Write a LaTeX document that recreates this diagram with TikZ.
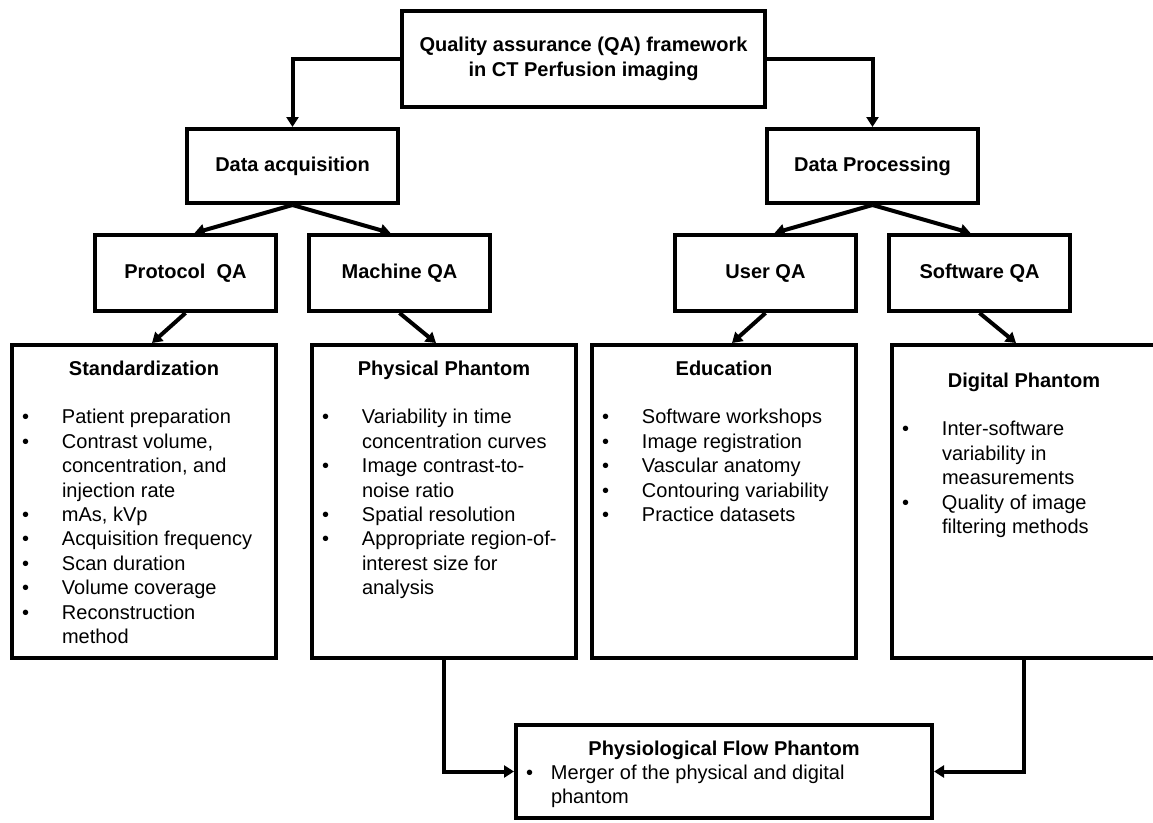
\documentclass[tikz,border=0pt]{standalone}
\usepackage{fontspec}
\setmainfont{Liberation Sans}
\usetikzlibrary{positioning,arrows.meta}

\newcommand{\qafont}{\fontsize{20}{24.4}\selectfont}
\newcommand{\qahead}[1]{\centering\rule{0pt}{20pt}\textbf{#1}\par\raggedright}
\newcommand{\qaitem}[2][40pt]{\hangindent=#1\hangafter=1\noindent\makebox[#1][l]{\textbullet}#2\par}

\begin{document}
\begin{tikzpicture}[
		every node/.style={font=\qafont},
		topbox/.style={draw,line width=4pt,minimum width=363pt,minimum height=96pt,align=center,font=\qafont\bfseries},
		lvlbox/.style={draw,line width=4pt,minimum width=211pt,minimum height=74pt,font=\qafont\bfseries},
		qabox/.style={draw,line width=4pt,minimum width=181pt,minimum height=76pt,font=\qafont\bfseries},
		listbox/.style={draw,line width=4pt,inner sep=10pt},
		arr/.style={line width=4pt,-{Triangle[length=10pt,width=12pt]}}
		]
		\useasboundingbox (0,0) rectangle (1153pt,-822pt);
		\node[listbox,anchor=north west] (std) at (10pt,-343pt)
		{\parbox[c][293pt][t]{244pt}{%
				\qahead{Standardization}
				\vspace{24.4pt}
				\qaitem{Patient preparation}
				\qaitem{Contrast volume,\newline concentration, and\newline injection rate}
				\qaitem{mAs, kVp}
				\qaitem{Acquisition frequency}
				\qaitem{Scan duration}
				\qaitem{Volume coverage}
				\qaitem{Reconstruction\newline method}}};
		\node[listbox,right=32pt of std] (phys)
		{\parbox[c][293pt][t]{244pt}{%
				\qahead{Physical Phantom}
				\vspace{24.4pt}
				\qaitem{Variability in time\newline concentration curves}
				\qaitem{Image contrast-to-\newline noise ratio}
				\qaitem{Spatial resolution}
				\qaitem{Appropriate region-of-\newline interest size for\newline analysis}}};
		\node[listbox,right=12pt of phys] (edu)
		{\parbox[c][293pt][t]{244pt}{%
				\qahead{Education}
				\vspace{24.4pt}
				\qaitem{Software workshops}
				\qaitem{Image registration}
				\qaitem{Vascular anatomy}
				\qaitem{Contouring variability}
				\qaitem{Practice datasets}}};
		\node[listbox,right=32pt of edu] (dig)
		{\parbox[c][293pt][t]{244pt}{%
				\vspace*{12pt}
				\qahead{Digital Phantom}
				\vspace{24.4pt}
				\qaitem{Inter-software\newline variability in\newline measurements}
				\qaitem{Quality of image\newline filtering methods}}};
		\node[listbox,below=63pt of edu] (flow)
		{\parbox[c][73pt][t]{396pt}{%
				\qahead{Physiological Flow Phantom}
				\qaitem[25pt]{Merger of the physical and digital\newline phantom}}};
		\node[qabox,above left=30pt and 0pt of std.north east] (protqa) {Protocol~~QA};
		\node[qabox,right=29pt of protqa] (machqa) {Machine QA};
		\node[qabox,above left=30pt and 0pt of edu.north east] (userqa) {User QA};
		\node[qabox,right=29pt of userqa] (softqa) {Software QA};
		\node[lvlbox,above=28pt of protqa.north east,xshift=14.5pt] (acq) {Data acquisition};
		\node[lvlbox,above=28pt of userqa.north east,xshift=14.5pt] (proc) {Data Processing};
		\node[topbox,above right=18pt and 0pt of acq.north east] (qa)
		{Quality assurance (QA) framework\\in CT Perfusion imaging};
		\draw[arr] (qa.west) -| (acq.north);
		\draw[arr] (qa.east) -| (proc.north);
		\path [arr]
		(acq.south) edge ([xshift=9pt]protqa.north)
		(acq.south) edge ([xshift=-9pt]machqa.north)
		(proc.south) edge ([xshift=9pt]userqa.north)
		(proc.south) edge ([xshift=-9pt]softqa.north)
		(protqa.south) edge ([xshift=8pt]std.north)
		(machqa.south) edge ([xshift=-8pt]phys.north)
		(userqa.south) edge ([xshift=8pt]edu.north)
		(softqa.south) edge ([xshift=-8pt]dig.north);
		\draw[arr] (phys.south) |- (flow.west);
		\draw[arr] (dig.south) |- (flow.east);
	\end{tikzpicture}
\end{document}
